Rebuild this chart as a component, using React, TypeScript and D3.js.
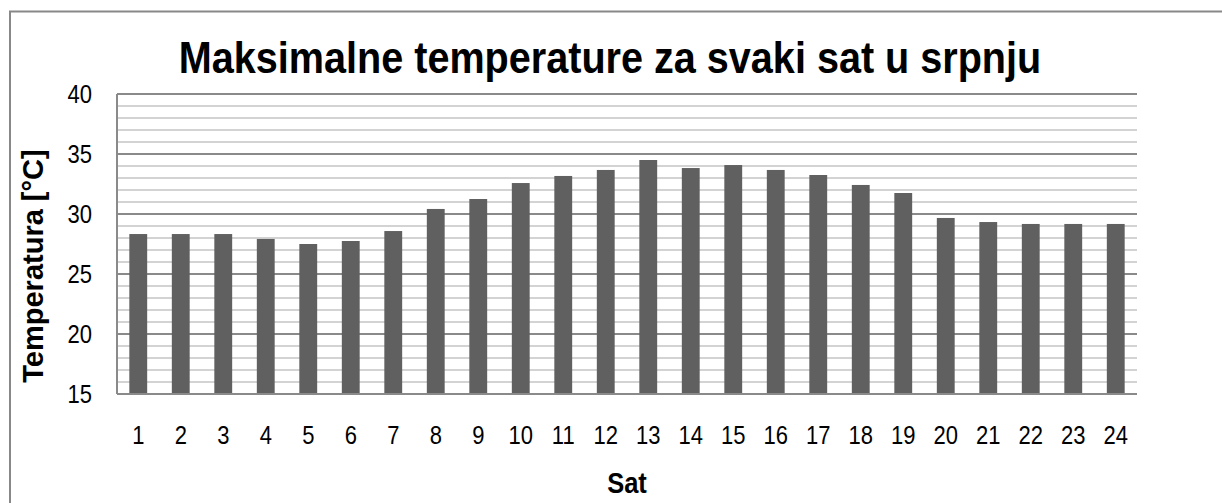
import React, { useEffect, useRef } from "react";
import * as d3 from "d3";

const hours = ["1", "2", "3", "4", "5", "6", "7", "8", "9", "10", "11", "12", "13", "14", "15", "16", "17", "18", "19", "20", "21", "22", "23", "24"];
const maxTemps = [28.33, 28.33, 28.33, 27.92, 27.5, 27.75, 28.58, 30.42, 31.25, 32.58, 33.17, 33.67, 34.5, 33.83, 34.08, 33.67, 33.25, 32.42, 31.75, 29.67, 29.33, 29.17, 29.17, 29.17];
const yTicks = [15, 20, 25, 30, 35, 40];

const App = () => {
  const ref = useRef<SVGSVGElement>(null);

  useEffect(() => {
    const W = 1222;
    const H = 503;
    const margin = { top: 94, bottom: 109, left: 117, right: 85 };
    const width = W - margin.left - margin.right;
    const height = H - margin.top - margin.bottom;
    const font = "'Liberation Sans', Arial, sans-serif";
    const squeeze = 0.88; // the original text looks horizontally condensed

    const svg = d3.select(ref.current);
    svg.selectAll("*").remove();

    svg.append("rect").attr("width", W).attr("height", H).attr("fill", "#fff");
    // outer chart frame
    svg
      .append("rect")
      .attr("x", 10)
      .attr("y", 11.5)
      .attr("width", W)
      .attr("height", H)
      .attr("fill", "none")
      .attr("stroke", "#888")
      .attr("stroke-width", 2);

    const g = svg.append("g").attr("transform", `translate(${margin.left},${margin.top})`);

    const x = d3.scaleBand().domain(hours).range([0, width]).paddingInner(0.58).paddingOuter(0.29);
    const y = d3.scaleLinear().domain([15, 40]).range([height, 0]);

    // minor gridlines
    g.append("g")
      .selectAll("line")
      .data(d3.range(16, 40).filter((v) => v % 5 !== 0))
      .join("line")
      .attr("x1", 0)
      .attr("x2", width)
      .attr("y1", (d) => y(d))
      .attr("y2", (d) => y(d))
      .attr("stroke", "#c4c4c4")
      .attr("stroke-width", 1.5);

    // major gridlines
    g.append("g")
      .selectAll("line")
      .data(yTicks)
      .join("line")
      .attr("x1", 0)
      .attr("x2", width)
      .attr("y1", (d) => y(d))
      .attr("y2", (d) => y(d))
      .attr("stroke", "#8a8a8a")
      .attr("stroke-width", 2);

    g.append("g")
      .selectAll("rect")
      .data(maxTemps)
      .join("rect")
      .attr("x", (d, i) => x(hours[i]) as number)
      .attr("width", x.bandwidth())
      .attr("y", (d) => y(d))
      .attr("height", (d) => y(15) - y(d))
      .attr("fill", "#606060");

    // axis lines
    g.append("line").attr("x1", 0).attr("x2", 0).attr("y1", 0).attr("y2", height).attr("stroke", "#8a8a8a").attr("stroke-width", 2);
    g.append("line").attr("x1", 0).attr("x2", width).attr("y1", height).attr("y2", height).attr("stroke", "#8a8a8a").attr("stroke-width", 2);

    // y tick labels
    g.append("g")
      .selectAll("text")
      .data(yTicks)
      .join("text")
      .attr("transform", (d) => `translate(-25,${y(d)}) scale(${squeeze},1)`)
      .attr("dy", "0.36em")
      .attr("text-anchor", "end")
      .attr("font-family", font)
      .attr("font-size", 25)
      .attr("fill", "#000")
      .text((d) => d);

    // x tick labels
    g.append("g")
      .selectAll("text")
      .data(hours)
      .join("text")
      .attr("transform", (d) => `translate(${(x(d) as number) + x.bandwidth() / 2},${height + 50}) scale(${squeeze},1)`)
      .attr("text-anchor", "middle")
      .attr("font-family", font)
      .attr("font-size", 25)
      .attr("fill", "#000")
      .text((d) => d);

    svg
      .append("text")
      .attr("transform", `translate(610,73) scale(0.9,1)`)
      .attr("text-anchor", "middle")
      .attr("font-family", font)
      .attr("font-weight", "bold")
      .attr("font-size", 44)
      .text("Maksimalne temperature za svaki sat u srpnju");

    svg
      .append("text")
      .attr("transform", `translate(${margin.left + width / 2},493) scale(${squeeze},1)`)
      .attr("text-anchor", "middle")
      .attr("font-family", font)
      .attr("font-weight", "bold")
      .attr("font-size", 29)
      .text("Sat");

    svg
      .append("text")
      .attr("transform", `translate(43,${margin.top + height / 2 + 22}) rotate(-90)`)
      .attr("text-anchor", "middle")
      .attr("font-family", font)
      .attr("font-weight", "bold")
      .attr("font-size", 29)
      .text("Temperatura [°C]");
  }, []);

  return <svg ref={ref} width={1222} height={503} style={{ position: "absolute", left: 0, top: 0 }}></svg>;
};

export default App;
